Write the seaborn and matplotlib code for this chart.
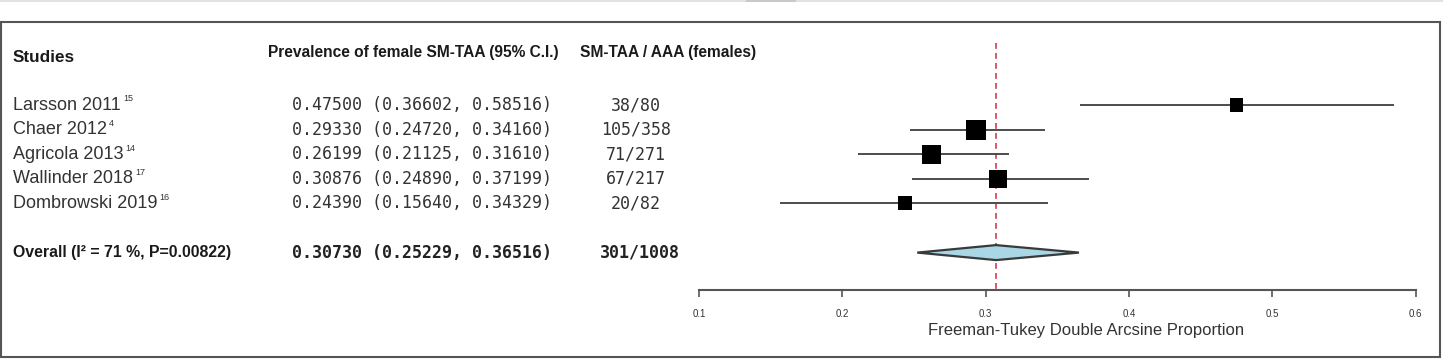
import matplotlib
matplotlib.use("Agg")
import matplotlib.pyplot as plt
import matplotlib.transforms as mtransforms
from matplotlib.patches import Rectangle
import seaborn as sns
import pandas as pd

# ---------------- data ----------------
studies = ["Larsson 2011", "Chaer 2012", "Agricola 2013", "Wallinder 2018", "Dombrowski 2019"]
refs = ["15", "4", "14", "17", "16"]
prevalence = [0.47500, 0.29330, 0.26199, 0.30876, 0.24390]
ci_low = [0.36602, 0.24720, 0.21125, 0.24890, 0.15640]
ci_high = [0.58516, 0.34160, 0.31610, 0.37199, 0.34329]
events = [38, 105, 71, 67, 20]
totals = [80, 358, 271, 217, 82]
weights = [15.5, 23.8, 22.6, 21.4, 16.7]

overall_label = "Overall (I\u00b2 = 71 %, P=0.00822)"
overall_est = 0.30730
overall_low = 0.25229
overall_high = 0.36516
overall_events = 301
overall_total = 1008

x_ticks = [0.1, 0.2, 0.3, 0.4, 0.5, 0.6]
x_label = "Freeman-Tukey Double Arcsine Proportion"
headers = ["Studies", "Prevalence of female SM-TAA (95% C.I.)", "SM-TAA / AAA (females)"]

# ---------------- figure ----------------
sns.set_theme(style="white")
plt.rcParams["font.family"] = ["Liberation Sans", "DejaVu Sans"]

W, H = 1443, 359
fig = plt.figure(figsize=(W / 100, H / 100), dpi=100)
fig.patch.set_facecolor("white")

ax_left, ax_right = 699, 1415.5
ax_top, ax_bottom = 30, 290
ax = fig.add_axes([ax_left / W, (H - ax_bottom) / H,
                   (ax_right - ax_left) / W, (ax_bottom - ax_top) / H])
ax.set_facecolor("none")

row0_px, row_step = 105, 24.6
ax.set_ylim((ax_bottom - row0_px) / row_step, (ax_top - row0_px) / row_step)
ax.set_xlim(x_ticks[0], x_ticks[-1])

rows = list(range(len(studies)))
overall_row = 6
header_row = -1.95

df = pd.DataFrame({"est": prevalence, "row": rows, "w": weights,
                   "lo": ci_low, "hi": ci_high})

# confidence intervals
ax.hlines(df["row"], df["lo"], df["hi"], color="#4d4d4d", lw=1.4, zorder=2)

# weighted boxes
sizes = [(w * 0.84 * 0.72) ** 2 for w in weights]
sns.scatterplot(data=df, x="est", y="row", marker="s", s=sizes, color="black",
                edgecolor="black", linewidth=0, ax=ax, legend=False, zorder=3)

# overall diamond
h = 7.5 / row_step
ax.fill([overall_low, overall_est, overall_high, overall_est],
        [overall_row, overall_row - h, overall_row, overall_row + h],
        facecolor="#a9d7e6", edgecolor="#3a3a3a", lw=1.6, zorder=3)

# reference line
ax.vlines(overall_est, -2.52, (ax_bottom - row0_px) / row_step, colors="#d63c50",
          linestyles=(0, (3.5, 2.5)), lw=1.2, zorder=1)

# axis styling
for s in ["top", "right", "left"]:
    ax.spines[s].set_visible(False)
ax.spines["bottom"].set_color("#555555")
ax.spines["bottom"].set_linewidth(1.5)
ax.set_yticks([])
ax.set_xticks(x_ticks)
ax.set_xticklabels([f"{t:.1f}" for t in x_ticks])
ax.tick_params(axis="x", direction="out", length=5, width=1.2, color="#555555",
               labelsize=7, labelcolor="#333333", pad=9, bottom=True)
ax.set_ylabel("")
ax.set_xlabel(x_label, fontsize=12, color="#333333", family=["Liberation Sans", "DejaVu Sans"])
ax.xaxis.set_label_coords(0.54, -0.125)

# ---------------- text columns ----------------
trans = mtransforms.blended_transform_factory(fig.transFigure, ax.transData)
bold_font = ["Liberation Sans", "DejaVu Sans"]
mono = ["DejaVu Sans Mono"]
col_name, col_est, col_n = 13 / W, 292 / W, 636 / W
col_h2, col_h3 = 268 / W, 580 / W

fig.text(col_name, header_row, headers[0], transform=trans, family=bold_font,
         fontweight="bold", fontsize=12.3, color="#1a1a1a", va="center", ha="left")
fig.text(col_h2, header_row - 0.18, headers[1], transform=trans, family=bold_font,
         fontweight="bold", fontsize=11.2, color="#1a1a1a", va="center", ha="left")
fig.text(col_h3, header_row - 0.18, headers[2], transform=trans, family=bold_font,
         fontweight="bold", fontsize=11.2, color="#1a1a1a", va="center", ha="left")

for i, (name, ref) in enumerate(zip(studies, refs)):
    t = fig.text(col_name, rows[i], name, transform=trans, fontsize=13,
                 color="#333333", va="center", ha="left",
                 family=["Liberation Sans", "DejaVu Sans"])
    ax.annotate(ref, xy=(1.0, 0.6), xycoords=t, xytext=(1.5, 0),
                textcoords="offset points", fontsize=6.5, color="#333333",
                va="bottom", ha="left", annotation_clip=False)
    fig.text(col_est, rows[i],
             f"{prevalence[i]:.5f} ({ci_low[i]:.5f}, {ci_high[i]:.5f})",
             transform=trans, family=mono, fontsize=12, color="#333333",
             va="center", ha="left")
    fig.text(col_n, rows[i], f"{events[i]}/{totals[i]}", transform=trans,
             family=mono, fontsize=12, color="#333333", va="center", ha="center")

fig.text(col_name, overall_row, overall_label, transform=trans, family=bold_font,
         fontweight="bold", fontsize=11.4, color="#1a1a1a", va="center", ha="left")
fig.text(col_est, overall_row,
         f"{overall_est:.5f} ({overall_low:.5f}, {overall_high:.5f})",
         transform=trans, family=mono, fontweight="bold", fontsize=12,
         color="#222222", va="center", ha="left")
fig.text(col_n + 4 / W, overall_row, f"{overall_events}/{overall_total}",
         transform=trans, family=mono, fontweight="bold", fontsize=12,
         color="#222222", va="center", ha="center")

# ---------------- frame ----------------
fig.patches.append(Rectangle((0, (H - 2) / H), 1, 2 / H, transform=fig.transFigure,
                             facecolor="#e2e2e2", edgecolor="none", zorder=0))
fig.patches.append(Rectangle((746 / W, (H - 2) / H), 50 / W, 2 / H, transform=fig.transFigure,
                             facecolor="#c9c9c9", edgecolor="none", zorder=0))
fig.patches.append(Rectangle((1 / W, (H - 357) / H), 1439 / W, 335 / H,
                             transform=fig.transFigure, facecolor="none",
                             edgecolor="#555555", lw=1.5, zorder=5))

fig.savefig("out.png", dpi=100, facecolor="white")
